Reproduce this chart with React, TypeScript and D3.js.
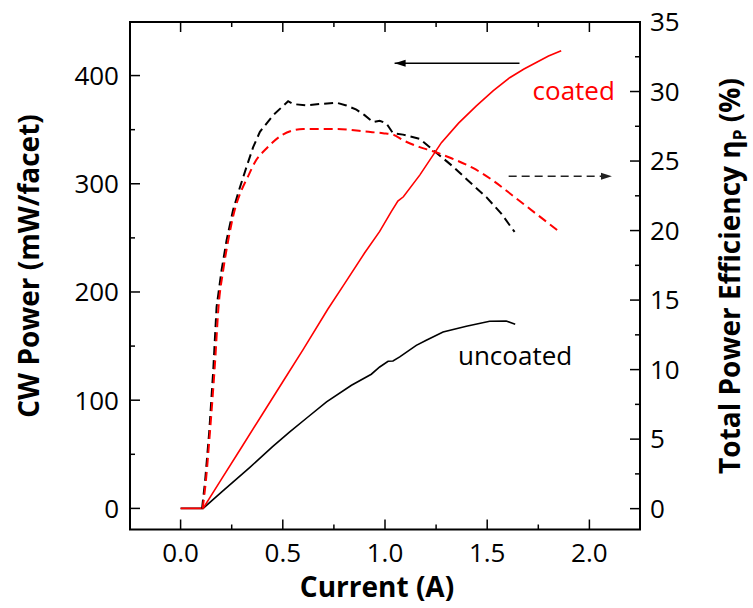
import React from "react";
import * as d3 from "d3";

// Current (A) vs CW power (mW/facet), coated
const coatedPowerI = [0, 0.05, 0.11, 0.2, 0.3, 0.4, 0.5, 0.6, 0.72, 0.8, 0.9, 0.974, 1.03, 1.063, 1.09, 1.17, 1.276, 1.36, 1.447, 1.53, 1.61, 1.68, 1.74, 1.8, 1.862];
const coatedPowerP = [0, 0, 0, 27, 57, 87, 117, 147, 184, 207, 236, 256, 274, 284, 288, 308, 338, 356, 372, 386, 398, 406, 412, 418, 423];

// uncoated power
const uncoatedPowerI = [0, 0.11, 0.2, 0.339, 0.45, 0.534, 0.62, 0.714, 0.836, 0.933, 0.974, 1.015, 1.039, 1.072, 1.153, 1.202, 1.284, 1.398, 1.512, 1.593, 1.637];
const uncoatedPowerP = [0, 0, 15, 38, 57, 70.7, 84, 98.4, 113.8, 124, 130.7, 136, 136.2, 140, 150.7, 155.4, 163, 168.3, 172.9, 173.2, 170.1];

// efficiency (%) coated
const coatedEffI = [0.108, 0.125, 0.143, 0.168, 0.186, 0.208, 0.233, 0.265, 0.298, 0.33, 0.363, 0.42, 0.5, 0.6, 0.76, 0.92, 0.99, 1.04, 1.088, 1.17, 1.235, 1.325, 1.43, 1.528, 1.626, 1.74, 1.855];
const coatedEffE = [0, 2.2, 5.4, 10.4, 14.6, 17.1, 19.3, 21.5, 22.9, 23.9, 24.9, 25.9, 26.9, 27.3, 27.3, 27.1, 27.0, 26.9, 26.5, 26.0, 25.7, 25.2, 24.5, 23.6, 22.5, 21.2, 19.9];

// efficiency (%) uncoated
const uncoatedEffI = [0.105, 0.12, 0.14, 0.16, 0.176, 0.2, 0.225, 0.257, 0.29, 0.323, 0.355, 0.388, 0.453, 0.526, 0.55, 0.616, 0.681, 0.762, 0.811, 0.86, 0.9, 0.942, 0.974, 1.007, 1.039, 1.088, 1.17, 1.235, 1.333, 1.406, 1.496, 1.57, 1.634];
const uncoatedEffE = [0, 2, 5.5, 10, 14.5, 17.1, 19.3, 21.5, 23.1, 24.6, 26.0, 27.1, 28.3, 29.3, 29.1, 29.0, 29.1, 29.2, 29.0, 28.7, 28.3, 27.8, 27.9, 27.7, 27.0, 26.9, 26.6, 25.8, 24.6, 23.6, 22.4, 21.2, 19.9];

const xTicks = [0, 0.5, 1.0, 1.5, 2.0];
const xMinor = [0.25, 0.75, 1.25, 1.75];
const yLeftTicks = [0, 100, 200, 300, 400];
const yLeftMinor = [50, 150, 250, 350];
const yRightTicks = [0, 5, 10, 15, 20, 25, 30, 35];
const yRightMinor = [2.5, 7.5, 12.5, 17.5, 22.5, 27.5, 32.5];

const W = 753, H = 608;
const L = 130, R = 640, T = 22, B = 529.5;

export default function App() {
  const x = d3.scaleLinear().domain([-0.25, 2.25]).range([129.5, 640.5]);
  const yL = d3.scaleLinear().domain([-19.5, 449.5]).range([B, T]);
  const yR = d3.scaleLinear().domain([-1.5, 35]).range([B, T]);

  const lineL = (xs: number[], ys: number[], curve: any = d3.curveLinear) =>
    d3.line<number>().x((_, i) => x(xs[i])).y((d) => yL(d)).curve(curve)(ys) || "";
  const lineR = (xs: number[], ys: number[], curve: any = d3.curveLinear) =>
    d3.line<number>().x((_, i) => x(xs[i])).y((d) => yR(d)).curve(curve)(ys) || "";

  const tickFont = { fontFamily: "'Open Sans', sans-serif", fontSize: 26, fill: "#000" } as any;
  const titleFont = { fontFamily: "'Open Sans', sans-serif", fontSize: 28, fontWeight: 700, fill: "#000" } as any;

  return (
    <svg width={W} height={H} style={{ position: "absolute", left: 0, top: 0, background: "#fff" }}>
      <defs>
        <marker id="ah" markerUnits="userSpaceOnUse" markerWidth="12" markerHeight="8" refX="11" refY="4" orient="auto">
          <path d="M0,0.5 L11,4 L0,7.5 z" fill="#000" />
        </marker>
        <marker id="ah2" markerUnits="userSpaceOnUse" markerWidth="12" markerHeight="8" refX="11" refY="4" orient="auto">
          <path d="M0,0.5 L11,4 L0,7.5 z" fill="#222" />
        </marker>
      </defs>
      <rect x={0} y={0} width={W} height={H} fill="#fff" />

      {/* curves */}
      <path d={lineL(uncoatedPowerI, uncoatedPowerP)} fill="none" stroke="#000" strokeWidth={1.6} />
      <path d={lineL(coatedPowerI, coatedPowerP)} fill="none" stroke="#ff0000" strokeWidth={1.6} />
      <path d={lineR(uncoatedEffI, uncoatedEffE)} fill="none" stroke="#000" strokeWidth={2} strokeDasharray="9,5" />
      <path d={lineR(coatedEffI, coatedEffE, d3.curveMonotoneX)} fill="none" stroke="#ff0000" strokeWidth={2} strokeDasharray="9,5" />

      {/* arrows */}
      <line x1={x(1.658)} x2={x(1.047)} y1={yL(411.3)} y2={yL(411.3)} stroke="#000" strokeWidth={1.5} markerEnd="url(#ah)" />
      <line x1={x(1.605)} x2={x(2.11)} y1={yR(23.9)} y2={yR(23.9)} stroke="#222" strokeWidth={1.5} strokeDasharray="8,5" markerEnd="url(#ah2)" />

      {/* labels */}
      <text x={x(1.722)} y={yL(377)} style={{ ...tickFont, fill: "#ff0000" }}>coated</text>
      <text x={x(1.357)} y={yL(132.3)} style={tickFont}>uncoated</text>

      {/* frame */}
      <rect x={L} y={T} width={R - L} height={B - T} fill="none" stroke="#000" strokeWidth={2} />

      {/* x ticks bottom & top */}
      {xTicks.map((t) => (
        <g key={"xt" + t}>
          <line x1={x(t)} x2={x(t)} y1={B} y2={B - 10} stroke="#000" strokeWidth={1.5} />
          <line x1={x(t)} x2={x(t)} y1={T} y2={T + 10} stroke="#000" strokeWidth={1.5} />
          <text x={x(t)} y={562} textAnchor="middle" style={tickFont}>{t.toFixed(1)}</text>
        </g>
      ))}
      {xMinor.map((t) => (
        <g key={"xm" + t}>
          <line x1={x(t)} x2={x(t)} y1={B} y2={B - 5} stroke="#000" strokeWidth={1.5} />
          <line x1={x(t)} x2={x(t)} y1={T} y2={T + 5} stroke="#000" strokeWidth={1.5} />
        </g>
      ))}

      {/* left axis */}
      {yLeftTicks.map((t) => (
        <g key={"yl" + t}>
          <line x1={L} x2={L + 10} y1={yL(t)} y2={yL(t)} stroke="#000" strokeWidth={1.5} />
          <text x={119} y={yL(t)} dy="0.36em" textAnchor="end" style={tickFont}>{t}</text>
        </g>
      ))}
      {yLeftMinor.map((t) => (
        <line key={"ylm" + t} x1={L} x2={L + 5} y1={yL(t)} y2={yL(t)} stroke="#000" strokeWidth={1.5} />
      ))}

      {/* right axis */}
      {yRightTicks.map((t) => (
        <g key={"yr" + t}>
          <line x1={R} x2={R - 10} y1={yR(t)} y2={yR(t)} stroke="#000" strokeWidth={1.5} />
          <text x={650} y={yR(t)} dy="0.36em" textAnchor="start" style={tickFont}>{t}</text>
        </g>
      ))}
      {yRightMinor.map((t) => (
        <line key={"yrm" + t} x1={R} x2={R - 5} y1={yR(t)} y2={yR(t)} stroke="#000" strokeWidth={1.5} />
      ))}

      {/* titles */}
      <text x={377} y={597} textAnchor="middle" style={titleFont}>Current (A)</text>
      <text transform="translate(39,266) rotate(-90)" textAnchor="middle" style={titleFont}>CW Power (mW/facet)</text>
      <text transform="translate(740,276) rotate(-90)" textAnchor="middle" style={titleFont}>
        Total Power Efficiency η<tspan fontSize={17} dy={6}>P</tspan><tspan dy={-6}> (%)</tspan>
      </text>
    </svg>
  );
}
